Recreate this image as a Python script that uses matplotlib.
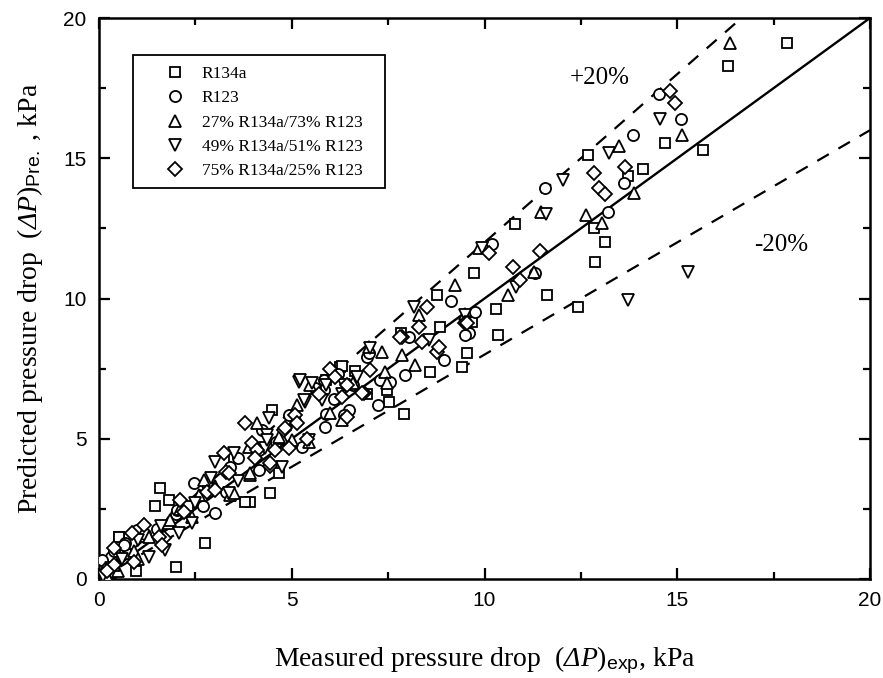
import matplotlib
matplotlib.use("Agg")
import matplotlib.pyplot as plt
from matplotlib.ticker import MultipleLocator
from matplotlib.patches import Rectangle

plt.rcParams['mathtext.fontset'] = 'custom'
plt.rcParams['mathtext.rm'] = 'Liberation Serif'
plt.rcParams['mathtext.it'] = 'Liberation Serif:italic'
plt.rcParams['mathtext.cal'] = 'Liberation Serif:italic'
plt.rcParams['mathtext.sf'] = 'Liberation Sans'
plt.rcParams['font.family'] = ['Liberation Serif', 'DejaVu Serif']

# ---------------- data ----------------
r134a_x = [17.85, 16.32, 14.67, 15.66, 12.69, 14.10, 13.72, 10.80, 12.83, 13.12,
           12.87, 9.74, 11.63, 10.31, 12.42, 10.35, 9.68, 8.77, 8.85, 9.55,
           9.42, 8.59, 7.83, 6.65, 6.25, 7.47, 7.90, 7.51, 4.50, 4.66,
           3.92, 4.44, 3.80, 2.76, 2.00, 1.57, 1.46, 1.81, 0.53, 0.96,
           0.30, 0.15, 2.30, 5.90, 6.30, 3.50, 1.20, 0.70, 0.51, 6.95]
r134a_y = [19.10, 18.30, 15.53, 15.29, 15.12, 14.62, 14.37, 12.65, 12.50, 12.01,
           11.29, 10.92, 10.14, 9.61, 9.69, 8.70, 9.17, 10.12, 8.97, 8.05,
           7.57, 7.39, 8.77, 7.43, 7.57, 6.74, 5.87, 6.32, 6.02, 3.77,
           2.76, 3.05, 2.76, 1.28, 0.44, 3.25, 2.59, 2.82, 1.50, 0.30,
           0.20, 0.10, 2.60, 7.10, 7.60, 4.30, 1.50, 0.90, 1.51, 6.60]

r123_x = [14.53, 15.09, 13.84, 13.61, 13.20, 11.58, 10.19, 11.30, 9.14, 9.76,
          9.59, 9.50, 8.94, 8.04, 7.95, 7.30, 6.95, 5.83, 7.25, 5.83,
          6.48, 5.86, 4.92, 4.23, 5.27, 4.14, 3.40, 3.30, 2.46, 3.02,
          2.70, 2.00, 1.50, 0.99, 0.68, 0.50, 0.30, 0.08, 0.20, 6.10,
          6.60, 5.90, 3.60, 4.60, 7.00, 6.35, 7.55, 2.02, 0.64, 4.14,
          5.60, 6.20, 1.20, 2.80, 0.40]
r123_y = [17.28, 16.39, 15.83, 14.13, 13.08, 13.93, 11.93, 10.92, 9.91, 9.53,
          8.76, 8.70, 7.81, 8.64, 7.27, 7.09, 7.93, 7.09, 6.20, 6.74,
          6.02, 5.43, 5.85, 5.31, 4.72, 3.89, 4.00, 3.10, 3.41, 2.36,
          2.60, 2.30, 1.80, 1.75, 1.27, 0.90, 0.80, 0.68, 0.40, 6.40,
          6.90, 5.90, 4.30, 4.90, 8.05, 5.85, 7.03, 2.46, 1.21, 4.60,
          6.80, 7.30, 1.60, 3.40, 1.00]

mix27_x = [16.38, 15.12, 13.48, 13.88, 12.62, 13.05, 11.47, 9.87, 9.24, 10.61,
           9.49, 11.28, 8.29, 7.34, 7.86, 8.20, 7.43, 7.47, 5.14, 4.10,
           5.14, 4.75, 5.00, 6.30, 6.00, 3.88, 3.92, 5.44, 7.00, 3.00,
           2.60, 2.10, 1.80, 1.30, 0.90, 0.50, 0.20, 2.40, 3.40, 2.72,
           3.49, 1.85, 5.47, 5.09, 4.66, 3.92, 6.60, 1.00, 0.40]
mix27_y = [19.12, 15.83, 15.45, 13.77, 12.98, 12.70, 13.07, 11.80, 10.48, 10.12,
           9.45, 10.96, 9.41, 8.08, 7.99, 7.63, 7.39, 7.00, 6.20, 5.57,
           5.73, 5.02, 4.96, 5.67, 5.92, 4.72, 3.71, 4.90, 8.28, 3.30,
           3.00, 2.50, 2.00, 1.50, 1.00, 0.30, 0.10, 2.20, 3.00, 3.53,
           3.05, 2.10, 6.92, 5.67, 5.07, 3.77, 7.00, 0.70, 0.50]

mix49_x = [14.56, 13.24, 12.04, 11.60, 9.94, 15.27, 13.71, 10.82, 9.50, 8.16,
           8.55, 7.04, 5.18, 5.53, 5.35, 4.40, 4.36, 5.44, 4.31, 4.75,
           3.50, 3.02, 3.36, 2.41, 2.07, 1.72, 1.30, 1.00, 0.60, 0.10,
           3.60, 2.50, 6.30, 5.90, 5.21, 5.78, 6.35, 5.31, 4.36, 2.90,
           1.60, 0.30, 6.70]
mix49_y = [16.39, 15.20, 14.22, 13.01, 11.79, 10.96, 9.95, 10.42, 9.41, 9.71,
           8.52, 8.22, 7.03, 6.99, 6.32, 5.73, 5.13, 4.96, 4.66, 4.00,
           4.50, 4.18, 3.05, 2.00, 1.63, 1.03, 0.80, 1.40, 0.70, 0.10,
           3.50, 2.70, 6.60, 6.90, 7.09, 6.38, 6.92, 6.38, 4.96, 3.60,
           1.90, 0.40, 7.20]

mix75_x = [14.80, 14.93, 13.64, 12.83, 12.98, 13.13, 10.12, 11.45, 10.74, 10.93,
           9.50, 8.51, 8.29, 7.86, 8.38, 9.55, 8.77, 7.04, 6.87, 6.43,
           6.00, 6.12, 6.43, 3.80, 5.09, 5.14, 4.79, 3.97, 4.10, 4.57,
           4.92, 4.44, 4.05, 3.30, 2.80, 2.20, 1.68, 1.16, 0.86, 0.38,
           0.90, 0.40, 6.30, 5.40, 6.82, 7.81, 8.81, 4.83, 3.02, 3.23,
           3.36, 4.44, 2.11, 1.55, 1.63, 0.20, 5.70]
mix75_y = [17.41, 16.96, 14.70, 14.46, 13.95, 13.73, 11.61, 11.70, 11.13, 10.66,
           9.11, 9.69, 9.00, 8.64, 8.46, 9.12, 8.10, 7.45, 6.62, 6.92,
           7.48, 7.20, 5.79, 5.57, 5.85, 5.55, 5.31, 4.84, 4.60, 4.60,
           4.66, 4.03, 4.30, 3.80, 3.10, 2.40, 1.45, 1.93, 1.63, 1.09,
           0.60, 0.50, 6.50, 5.00, 6.63, 8.64, 8.28, 5.38, 3.17, 4.48,
           3.77, 4.12, 2.82, 1.51, 1.21, 0.30, 6.60]

labels = ['R134a', 'R123', '27% R134a/73% R123',
          '49% R134a/51% R123', '75% R134a/25% R123']

# ---------------- figure ----------------
W, H = 883, 678
fig = plt.figure(figsize=(W / 100, H / 100), dpi=100)
AX_L, AX_T, AX_W, AX_H = 99, 18, 771, 561
ax = fig.add_axes([AX_L / W, 1 - (AX_T + AX_H) / H, AX_W / W, AX_H / H])

ax.set_xlim(0, 20)
ax.set_ylim(0, 20)

# reference lines
ax.plot([0, 20], [0, 20], color='black', lw=1.7, zorder=1)
ax.plot([0, 20 / 1.2], [0, 20], color='black', lw=1.6, ls=(0, (6, 5)), zorder=1)
ax.plot([0, 20], [0, 16], color='black', lw=1.6, ls=(0, (6, 5)), zorder=1)

series = [(r134a_x, r134a_y, 's', 6.5),
          (r123_x, r123_y, 'o', 8),
          (mix27_x, mix27_y, '^', 8.5),
          (mix49_x, mix49_y, 'v', 8.5),
          (mix75_x, mix75_y, 'D', 7)]
for (xs, ys, m, ms), lab in zip(series, labels):
    ax.plot(xs, ys, ls='none', marker=m, ms=ms, mfc='white', mec='black',
            mew=1.3, label=lab, zorder=3)

ax.text(12.2, 17.86, '+20%', fontsize=18, va='center', ha='left')
ax.text(17.0, 11.9, '-20%', fontsize=18, va='center', ha='left')

# legend (frameless) + separate box
def fx(px):
    return (px - AX_L) / AX_W

def fy(py):
    return 1 - (py - AX_T) / AX_H

leg = ax.legend(loc='upper left', bbox_to_anchor=(fx(157.5), fy(66)),
                borderaxespad=0, borderpad=0, fontsize=12.5, frameon=False,
                labelspacing=0.47, handletextpad=0.55, handlelength=2.0)
leg.set_zorder(6)
box = Rectangle((fx(133), fy(188)), fx(385) - fx(133), fy(55) - fy(188),
                transform=ax.transAxes, fill=True, facecolor='white',
                edgecolor='black', lw=1.3, zorder=5)
ax.add_patch(box)

# axes styling
for s in ax.spines.values():
    s.set_linewidth(1.8)
ax.xaxis.set_major_locator(MultipleLocator(5))
ax.yaxis.set_major_locator(MultipleLocator(5))
ax.xaxis.set_minor_locator(MultipleLocator(2.5))
ax.yaxis.set_minor_locator(MultipleLocator(2.5))
ax.tick_params(which='both', direction='in', top=True, right=True, width=1.6)
ax.tick_params(which='major', length=8, pad=9)
ax.tick_params(which='minor', length=5)
for lab in ax.get_xticklabels() + ax.get_yticklabels():
    lab.set_fontfamily('Liberation Sans')
    lab.set_fontsize(15)

ax.set_xlabel(r'Measured pressure drop  $(\mathcal{\Delta}\mathit{P})_{\mathsf{exp}}$, kPa',
              fontsize=20, labelpad=24)
ax.set_ylabel(r'Predicted pressure drop  $(\mathcal{\Delta}\mathit{P})_{\mathsf{Pre.}}$ , kPa',
              fontsize=20, labelpad=13)

fig.savefig('out.png', dpi=100)
